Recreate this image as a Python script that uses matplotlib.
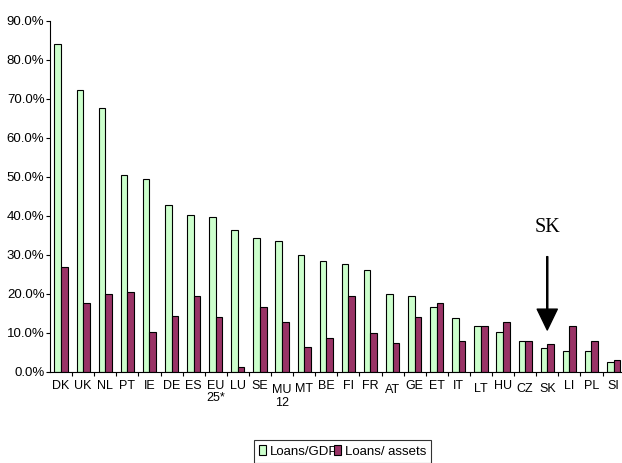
import numpy as np
import matplotlib
matplotlib.use("Agg")
from matplotlib import pyplot as plt
from matplotlib.ticker import FuncFormatter

# data (%)
countries = ['DK', 'UK', 'NL', 'PT', 'IE', 'DE', 'ES', 'EU\n25*', 'LU', 'SE', 'MU\n12', 'MT', 'BE',
             'FI', 'FR', 'AT', 'GE', 'ET', 'IT', 'LT', 'HU', 'CZ', 'SK', 'LI', 'PL', 'SI']
loans_gdp = [83.9, 72.2, 67.7, 50.5, 49.5, 42.7, 40.1, 39.7, 36.3, 34.3, 33.5, 29.8, 28.3,
             27.5, 26.2, 20.0, 19.4, 16.5, 13.7, 11.8, 10.1, 8.0, 6.0, 5.4, 5.4, 2.6]
loans_assets = [26.8, 17.7, 19.8, 20.4, 10.1, 14.3, 19.4, 14.1, 1.2, 16.5, 12.7, 6.4, 8.6,
                19.4, 9.8, 7.3, 14.1, 17.5, 8.0, 11.8, 12.7, 8.0, 7.0, 11.8, 8.0, 3.0]
series_names = ['Loans/GDP', 'Loans/ assets']

# small extra drop (points) of some labels, as in the original
label_drop = {'MU\n12': 3, 'MT': 2, 'AT': 3, 'LT': 2, 'CZ': 2, 'SK': 2}

plt.rcParams['font.family'] = ['Liberation Sans', 'DejaVu Sans']

fig = plt.figure(figsize=(6.22, 4.63), dpi=100)
ax = fig.add_axes([50 / 622, (463 - 371.7) / 463, 574.6 / 622, 351 / 463])

x = np.arange(len(countries))
w = 0.3
b1 = ax.bar(x - w / 2, loans_gdp, w, color='#CCFFCC', edgecolor='black', linewidth=0.8,
            label=series_names[0])
b2 = ax.bar(x + w / 2, loans_assets, w, color='#993366', edgecolor='black', linewidth=0.8,
            label=series_names[1])

ax.set_xlim(-0.5, len(countries) - 0.5)
ax.set_ylim(0, 90)
ax.set_yticks(np.arange(0, 91, 10))
ax.yaxis.set_major_formatter(FuncFormatter(lambda v, p: f"{v:.1f}%"))
ax.tick_params(axis='y', direction='out', length=3, width=0.8, labelsize=9.5, pad=1)

# tick marks between categories, labels drawn separately
ax.set_xticks(x[1:] - 0.5)
ax.set_xticklabels([])
ax.tick_params(axis='x', direction='out', length=3, width=0.8)
for i, c in enumerate(countries):
    ax.annotate(c, xy=(i, 0), xytext=(0, -6 - label_drop.get(c, 0)), textcoords='offset points',
                ha='center', va='top', fontsize=9, linespacing=1.05, annotation_clip=False)

for s in ['top', 'right']:
    ax.spines[s].set_visible(False)
for s in ['left', 'bottom']:
    ax.spines[s].set_linewidth(0.8)

# SK marker
sk = countries.index('SK')
ax.annotate('', xy=(sk, 10.7), xytext=(sk, 29.5),
            arrowprops=dict(facecolor='black', edgecolor='black', width=0.8,
                            headwidth=14.5, headlength=15, shrink=0))
ax.text(sk, 36.9, 'SK', ha='center', va='center', fontsize=14.5, family='Liberation Serif')

leg = fig.legend(handles=[b1, b2], loc='upper left', bbox_to_anchor=(254 / 622, 23 / 463),
                 bbox_transform=fig.transFigure, ncol=2, fontsize=9.5, frameon=True,
                 fancybox=False, edgecolor='black', handlelength=0.5, handleheight=0.8,
                 handletextpad=0.3, columnspacing=-0.3, borderpad=0.4, borderaxespad=0)
leg.get_frame().set_linewidth(0.8)

fig.savefig('out.png', dpi=100)
